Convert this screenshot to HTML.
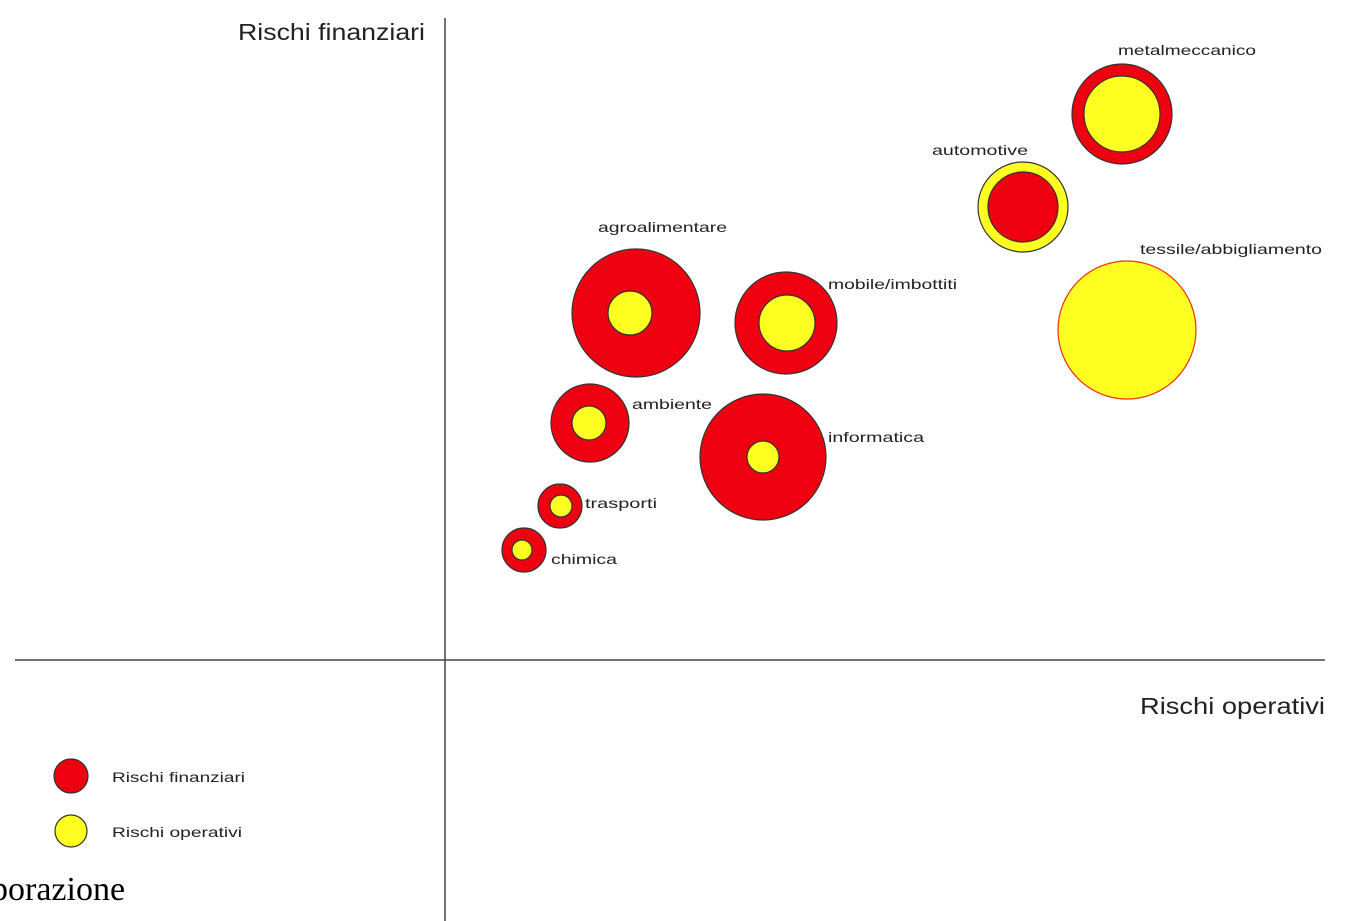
<!DOCTYPE html>
<html><head><meta charset="utf-8"><style>
html,body{margin:0;padding:0;background:#fff;}
svg{display:block;}
</style></head><body>
<svg width="1372" height="921" viewBox="0 0 1372 921" xmlns="http://www.w3.org/2000/svg">
<g stroke="#444" stroke-width="1.5">
<line x1="445" y1="18" x2="445" y2="921"/>
<line x1="15" y1="660" x2="1325" y2="660"/>
</g>
<g font-family="Liberation Sans, sans-serif" fill="#222">
<text x="238" y="40" font-size="23" textLength="187" lengthAdjust="spacingAndGlyphs">Rischi finanziari</text>
<text x="1140" y="714" font-size="23" textLength="185" lengthAdjust="spacingAndGlyphs">Rischi operativi</text>
</g>
<g stroke="#333" stroke-width="1.2">
<circle cx="1122" cy="114" r="50" fill="#ee0010"/>
<circle cx="1122" cy="114" r="38" fill="#ffff22"/>
<circle cx="1023" cy="207" r="45" fill="#ffff22"/>
<circle cx="1023" cy="207" r="35" fill="#ee0010"/>
<circle cx="1127" cy="330" r="69" fill="#ffff22" stroke="#ee3010"/>
<circle cx="636" cy="313" r="64" fill="#ee0010"/>
<circle cx="630" cy="313" r="22" fill="#ffff22"/>
<circle cx="786" cy="323" r="51" fill="#ee0010"/>
<circle cx="787" cy="323" r="28" fill="#ffff22"/>
<circle cx="590" cy="423" r="39" fill="#ee0010"/>
<circle cx="589" cy="423" r="17" fill="#ffff22"/>
<circle cx="763" cy="457" r="63" fill="#ee0010"/>
<circle cx="763" cy="457" r="16" fill="#ffff22"/>
<circle cx="560" cy="506" r="22" fill="#ee0010"/>
<circle cx="561" cy="506" r="11" fill="#ffff22"/>
<circle cx="524" cy="550" r="22" fill="#ee0010"/>
<circle cx="522" cy="550" r="10" fill="#ffff22"/>
<circle cx="71" cy="776" r="17" fill="#ee0010"/>
<circle cx="71" cy="831" r="16" fill="#ffff22"/>
</g>
<g font-family="Liberation Sans, sans-serif" fill="#222" font-size="14">
<text x="1118" y="55" textLength="138" lengthAdjust="spacingAndGlyphs">metalmeccanico</text>
<text x="932" y="155" textLength="96" lengthAdjust="spacingAndGlyphs">automotive</text>
<text x="1140" y="254" textLength="182" lengthAdjust="spacingAndGlyphs">tessile/abbigliamento</text>
<text x="598" y="232" textLength="129" lengthAdjust="spacingAndGlyphs">agroalimentare</text>
<text x="828" y="289" textLength="129" lengthAdjust="spacingAndGlyphs">mobile/imbottiti</text>
<text x="632" y="409" textLength="80" lengthAdjust="spacingAndGlyphs">ambiente</text>
<text x="828" y="442" textLength="96" lengthAdjust="spacingAndGlyphs">informatica</text>
<text x="585" y="508" textLength="72" lengthAdjust="spacingAndGlyphs">trasporti</text>
<text x="551" y="564" textLength="66" lengthAdjust="spacingAndGlyphs">chimica</text>
<text x="112" y="782" textLength="133" lengthAdjust="spacingAndGlyphs">Rischi finanziari</text>
<text x="112" y="837" textLength="130" lengthAdjust="spacingAndGlyphs">Rischi operativi</text>
</g>
<text x="-9" y="900" font-family="Liberation Serif, serif" font-size="34" fill="#000">porazione</text>
</svg>
</body></html>
